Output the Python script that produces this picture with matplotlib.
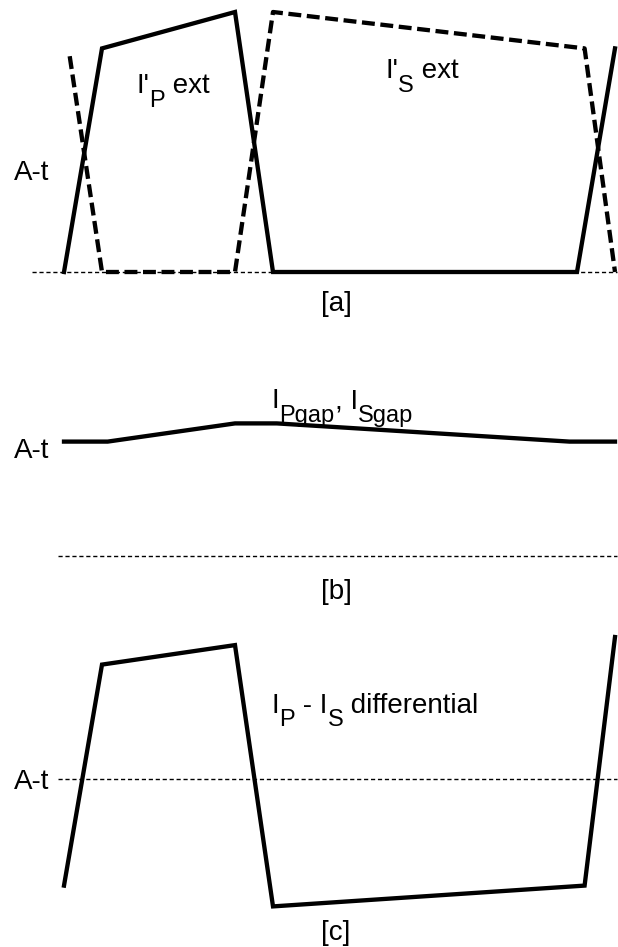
import matplotlib
matplotlib.use("Agg")
import matplotlib.pyplot as plt

plt.rcParams['font.family'] = ['Liberation Sans', 'DejaVu Sans']

# time axis (arbitrary units) and amplitudes (per unit of peak)
t_p = [0, 1, 4.5, 5.5, 13.5, 14.5]
ip_ext = [0, 0.86, 1.0, 0, 0, 0.86]
t_s = [0.15, 1, 4.5, 5.5, 13.7, 14.5]
is_ext = [0.83, 0, 0, 1.0, 0.86, 0]

t_gap = [0, 1.15, 4.5, 5.6, 13.3, 14.5]
i_gap = [0.44, 0.44, 0.51, 0.51, 0.44, 0.44]

t_diff = [0, 1, 4.5, 5.5, 13.7, 14.5]
i_diff = [-0.41, 0.44, 0.515, -0.49, -0.41, 0.546]

W, H = 618, 947
PX = 260.0          # pixels per amplitude unit
X0, X1 = -64 / 38, 554 / 38

FS = 20
SUB_FS = 17
SUB_DY = -9   # points

fig = plt.figure(figsize=(W / 100, H / 100), dpi=100)


def make_ax(top, bot, base):
    ax = fig.add_axes([0, 1 - bot / H, 1, (bot - top) / H])
    ax.set_xlim(X0, X1)
    ax.set_ylim((base - bot) / PX, (base - top) / PX)
    ax.axis('off')
    return ax


def label(ax, x, y, parts):
    # parts: list of (string, is_subscript); chained left to right
    prev = None
    prev_sub = False
    for s, sub in parts:
        fs = SUB_FS if sub else FS
        if prev is None:
            prev = ax.text(x, y, s, fontsize=fs, ha='left', va='baseline')
        else:
            dy = 0
            if sub and not prev_sub:
                dy = SUB_DY
            elif prev_sub and not sub:
                dy = -SUB_DY
            prev = ax.annotate(s, xy=(1, 0), xycoords=prev, xytext=(0, dy),
                               textcoords='offset points', fontsize=fs,
                               ha='left', va='bottom')
        prev_sub = sub


thin = dict(color='black', lw=1.0, ls=(0, (3, 2)))

# [a]
ax = make_ax(0, 320, 272)
ax.plot([-0.84, 14.55], [0, 0], **thin)
ax.plot(t_s, is_ext, color='black', lw=3.1, ls=(0, (3, 1.3)))
ax.plot(t_p, ip_ext, color='black', lw=3.1, solid_joinstyle='miter')
ax.text(-0.84, 0.381, 'A-t', fontsize=FS, ha='center', va='center')
label(ax, 1.9, 0.688, [("I'", False), ('P', True), (' ext', False)])
label(ax, 8.45, 0.746, [("I'", False), ('S', True), (' ext', False)])
ax.text(7.16, -0.123, '[a]', fontsize=FS, ha='center', va='center')

# [b]
ax = make_ax(320, 625, 556)
ax.plot([-0.15, 14.55], [0, 0], **thin)
ax.plot(t_gap, i_gap, color='black', lw=3.1, solid_joinstyle='miter')
ax.text(-0.84, 0.404, 'A-t', fontsize=FS, ha='center', va='center')
label(ax, 5.47, 0.569, [('I', False), ('Pgap', True), (', I', False), ('Sgap', True)])
ax.text(7.16, -0.137, '[b]', fontsize=FS, ha='center', va='center')

# [c]
ax = make_ax(625, 947, 779)
ax.plot([-0.15, 14.55], [0, 0], **thin)
ax.plot(t_diff, i_diff, color='black', lw=3.1, solid_joinstyle='miter')
ax.text(-0.84, -0.012, 'A-t', fontsize=FS, ha='center', va='center')
label(ax, 5.47, 0.254, [('I', False), ('P', True), (' - I', False), ('S', True),
                        (' differential', False)])
ax.text(7.16, -0.592, '[c]', fontsize=FS, ha='center', va='center')

fig.savefig('out.png', dpi=100)
